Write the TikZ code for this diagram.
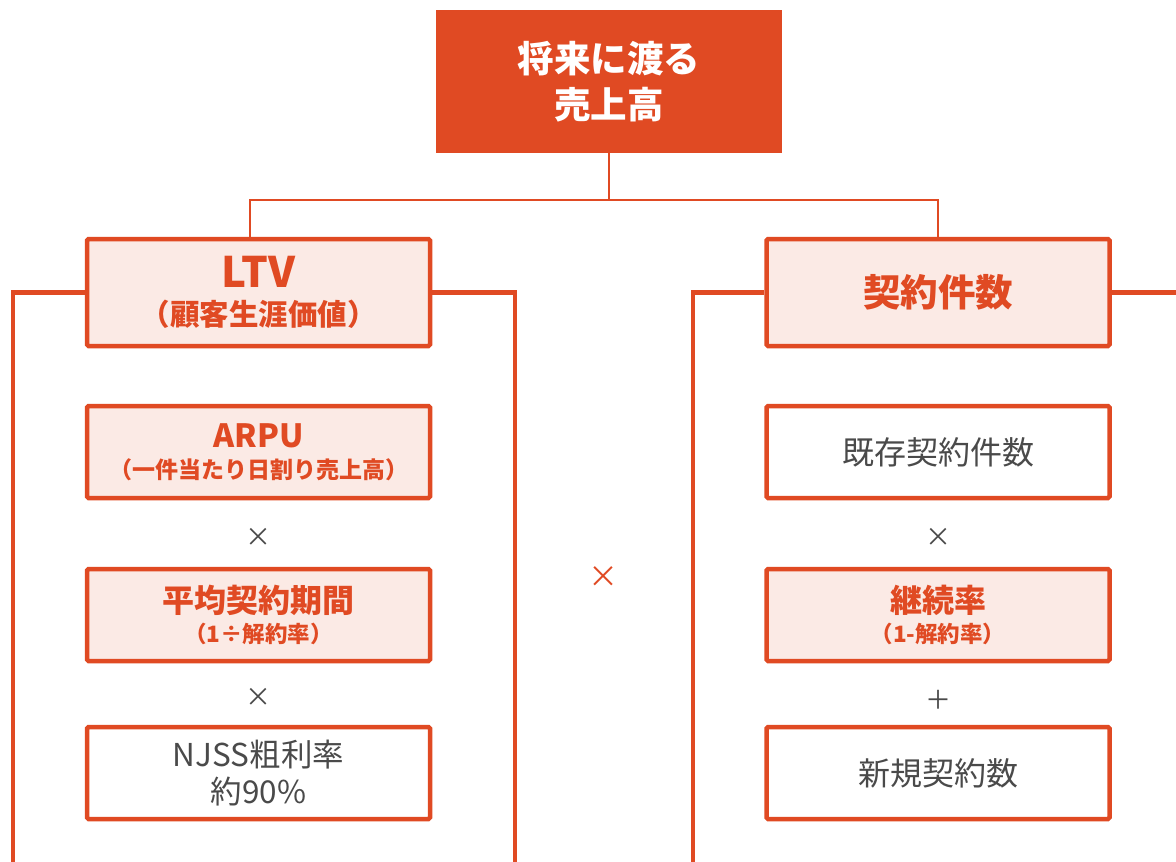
\documentclass[tikz,border=0pt]{standalone}
\usepackage{fontspec}
\setmainfont{Noto Sans CJK JP}
\usetikzlibrary{calc}
\definecolor{acc}{HTML}{E04A23}
\definecolor{pinkf}{HTML}{FBEAE5}
\definecolor{graytx}{HTML}{4A4A4A}
\tikzset{
  hbox/.style={draw=acc, line width=4.5pt, rounded corners=1.5pt, fill=pinkf, text=acc, align=center, minimum width=343pt, inner sep=0pt},
  wbox/.style={draw=acc, line width=4.5pt, rounded corners=1.5pt, fill=white, text=graytx, align=center, minimum width=343pt, inner sep=0pt},
  conn/.style={draw=acc, line width=2pt},
  brk/.style={draw=acc, line width=4.5pt},
  opsym/.style={text=graytx, font=\fontsize{26}{26}\selectfont, inner sep=0pt}
}
\begin{document}
\begin{tikzpicture}[x=1pt,y=-1pt]
\useasboundingbox (0,0) rectangle (1176,862);
\clip (0,0) rectangle (1176,862);
% top box
\node[fill=acc, text=white, font=\bfseries\fontsize{36.5}{46}\selectfont, align=center, minimum width=346pt, minimum height=143pt, inner sep=0pt] (top) at (609,81.5) {将来に渡る\\売上高};
% level 2
\node[hbox, minimum height=107pt, font=\bfseries\fontsize{29.5}{38}\selectfont] (ltv) at (258.5,292.5) {{\fontsize{42}{38}\selectfont LTV}\\（顧客生涯価値）};
\node[hbox, minimum height=107pt, font=\bfseries\fontsize{37.5}{40}\selectfont] (kei) at (938,292.5) {契約件数};
% connectors
\coordinate (j) at (609,200);
\draw[conn] (top.south) -- (j);
\draw[conn] (j) -| ($(ltv.north)+(-8.5,0)$);
\draw[conn] (j) -| (kei.north);
% brackets
\draw[brk] (ltv.west) -| (13,880);
\draw[brk] (ltv.east) -| (515,880);
\draw[brk] (kei.west) -| (693,880);
\draw[brk] (kei.east) -- (1190,0|-kei.east);
% left column
\node[hbox, minimum height=92pt, font=\bfseries\fontsize{23}{31}\selectfont] (arpu) at (258.5,452) {{\fontsize{32}{31}\selectfont ARPU}\\（一件当たり日割り売上高）};
\node[opsym] (x1) at (258.5,537) {×};
\node[hbox, minimum height=92pt, font=\bfseries\fontsize{22.5}{30}\selectfont] (kikan) at (258.5,615) {{\fontsize{32}{30}\selectfont 平均契約期間}\\（1÷解約率）};
\node[opsym] (x2) at (258.5,697) {×};
\node[wbox, minimum height=92pt, font=\fontsize{31.5}{37}\selectfont] (njss) at (258.5,773) {NJSS粗利率\\約90\%};
% middle
\node[text=acc, font=\fontsize{30}{30}\selectfont, inner sep=0pt] (xm) at (603,577) {×};
% right column
\node[wbox, minimum height=92pt, font=\fontsize{32}{34}\selectfont] (kizon) at (938,452) {既存契約件数};
\node[opsym] (x3) at (938,537) {×};
\node[hbox, minimum height=92pt, font=\bfseries\fontsize{22.5}{30}\selectfont] (keizoku) at (938,615) {{\fontsize{32}{30}\selectfont 継続率}\\（1-解約率）};
\node[opsym] (p1) at (938,700) {＋};
\node[wbox, minimum height=92pt, font=\fontsize{32}{34}\selectfont] (shinki) at (938,773) {新規契約数};
\end{tikzpicture}
\end{document}
